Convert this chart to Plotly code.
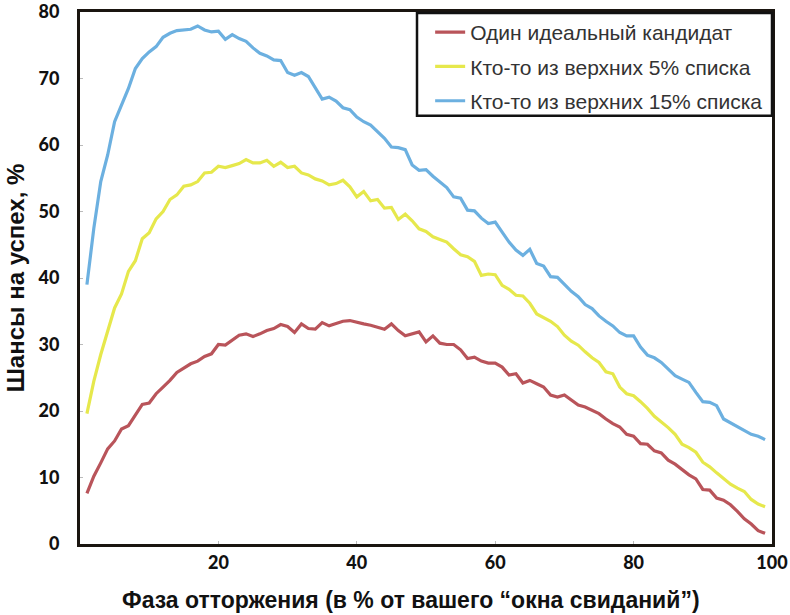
import plotly.graph_objects as go

x_vals = list(range(1, 100))

one_ideal = [7.6, 10.2, 12.2, 14.3, 15.5, 17.3, 17.8, 19.5, 21.0, 21.2,
             22.6, 23.6, 24.6, 25.8, 26.4, 27.1, 27.5, 28.2, 28.6, 30.0,
             29.9, 30.6, 31.4, 31.6, 31.2, 31.6, 32.1, 32.4, 33.0, 32.7,
             31.8, 33.1, 32.4, 32.3, 33.3, 32.8, 33.1, 33.5, 33.6, 33.3,
             33.1, 32.9, 32.6, 32.3, 33.1, 32.1, 31.3, 31.6, 31.9, 30.4,
             31.3, 30.2, 30.0, 30.0, 29.2, 27.9, 28.1, 27.5, 27.2, 27.2,
             26.6, 25.4, 25.6, 24.2, 24.6, 24.1, 23.6, 22.4, 22.1, 22.4,
             21.6, 20.9, 20.6, 20.1, 19.6, 18.8, 18.1, 17.6, 16.5, 16.2,
             15.1, 15.0, 14.0, 13.7, 12.6, 12.0, 11.2, 10.4, 9.8, 8.2,
             8.1, 6.9, 6.6, 5.9, 4.9, 3.8, 3.0, 2.0, 1.6]

top5 = [19.6, 24.5, 28.5, 32.0, 35.5, 37.6, 41.0, 42.6, 45.9, 46.8,
        48.9, 50.0, 51.8, 52.5, 53.8, 54.0, 54.5, 55.8, 55.9, 56.8,
        56.6, 56.9, 57.2, 57.8, 57.3, 57.3, 57.7, 56.8, 57.4, 56.6,
        56.8, 55.8, 55.5, 54.9, 54.6, 54.0, 54.2, 54.7, 53.7, 52.2,
        53.0, 51.6, 51.8, 50.5, 50.6, 48.8, 49.6, 48.6, 47.4, 47.0,
        46.2, 45.8, 45.4, 44.4, 43.5, 43.2, 42.5, 40.4, 40.6, 40.5,
        38.9, 38.3, 37.4, 37.3, 36.2, 34.6, 34.0, 33.5, 32.7, 31.4,
        30.5, 29.9, 28.9, 28.0, 27.3, 25.9, 25.6, 23.6, 22.6, 22.3,
        21.4, 20.4, 19.2, 18.4, 17.5, 16.5, 15.0, 14.5, 13.8, 12.3,
        11.6, 10.7, 9.9, 9.0, 8.4, 7.9, 6.7, 6.0, 5.6]

top15 = [39.0, 47.5, 54.5, 58.5, 63.5, 66.0, 68.5, 71.5, 73.0, 74.0,
         74.8, 76.2, 76.8, 77.2, 77.3, 77.4, 77.9, 77.3, 77.0, 77.1,
         75.9, 76.6, 76.0, 75.6, 74.6, 73.8, 73.4, 72.8, 72.7, 70.9,
         70.5, 70.9, 70.3, 68.6, 66.9, 67.2, 66.6, 65.6, 65.3, 64.2,
         63.5, 63.0, 62.0, 61.0, 59.7, 59.6, 59.3, 57.0, 56.2, 56.3,
         55.3, 54.4, 53.6, 52.2, 52.0, 50.2, 50.1, 49.0, 48.2, 48.4,
         46.8, 45.4, 44.2, 43.4, 44.3, 42.2, 41.8, 40.2, 40.1, 39.0,
         38.0, 37.2, 36.0, 35.4, 34.3, 33.5, 32.8, 31.8, 31.3, 31.3,
         29.6, 28.4, 28.0, 27.3, 26.3, 25.3, 24.8, 24.3, 22.8, 21.4,
         21.3, 20.8, 18.8, 18.2, 17.7, 17.0, 16.5, 16.2, 15.7]

series_names = ["Один идеальный кандидат",
                "Кто-то из верхних 5% списка",
                "Кто-то из верхних 15% списка"]
series_values = [one_ideal, top5, top15]
series_colors = ["#b9545a", "#e6e84c", "#6cb0e0"]

x_ticks = [20, 40, 60, 80, 100]
y_ticks = [0, 10, 20, 30, 40, 50, 60, 70, 80]

x_title = "Фаза отторжения (в % от вашего “окна свиданий”)"
y_title = "Шансы на успех, %"

fig = go.Figure()
for i, (name, vals, col) in enumerate(zip(series_names, series_values, series_colors)):
    fig.add_trace(go.Scatter(x=x_vals, y=vals, mode="lines", name=name,
                             legendgroup=f"g{i}",
                             line=dict(color=col, width=3.2)))

tick_font = dict(family="Lato, Roboto, sans-serif", size=18, color="#111111", weight=900)
xtitle_font = dict(family="Liberation Sans, Arial, sans-serif", size=23, color="#111111", weight="bold")
ytitle_font = dict(family="Liberation Sans, Arial, sans-serif", size=24, color="#111111", weight="bold")

fig.update_layout(
    width=790, height=615,
    margin=dict(l=80, r=18, t=12, b=71),
    paper_bgcolor="white", plot_bgcolor="white",
    showlegend=True,
    legend=dict(x=0.506, y=1.0, xanchor="left", yanchor="top",
                bgcolor="rgba(0,0,0,0)", borderwidth=0,
                font=dict(family="Liberation Sans, Arial, sans-serif", size=21, color="#333333"),
                tracegroupgap=4, itemwidth=30),
    shapes=[dict(type="rect", xref="paper", yref="paper",
                 x0=0.487, x1=1.0, y0=0.805, y1=0.998,
                 line=dict(color="#111111", width=2.5), fillcolor="white", layer="above")],
    annotations=[dict(text=x_title, xref="paper", yref="paper",
                      x=(411 - 80) / 692, y=-(600 - 544) / 532,
                      xanchor="center", yanchor="middle", showarrow=False,
                      font=xtitle_font)],
    xaxis=dict(range=[0, 100], tickvals=x_ticks, ticktext=[str(v) for v in x_ticks],
               showgrid=False, zeroline=False, automargin=False,
               showline=True, linecolor="#1a1510", linewidth=3, mirror=True,
               ticks="inside", ticklen=3, tickcolor="#bbbbbb",
               tickfont=tick_font, ticklabeloverflow="allow"),
    yaxis=dict(range=[0, 80], tickvals=y_ticks, ticktext=[str(v) for v in y_ticks],
               showgrid=False, zeroline=False, automargin=False,
               showline=True, linecolor="#1a1510", linewidth=3, mirror=True,
               ticks="inside", ticklen=3, tickcolor="#bbbbbb",
               tickfont=tick_font, ticklabelstandoff=14, ticklabeloverflow="allow",
               title=dict(text=y_title, font=ytitle_font, standoff=8)),
)

fig.write_html("out.html", config={"displayModeBar": False},
               post_script="document.body.style.margin='0';")
